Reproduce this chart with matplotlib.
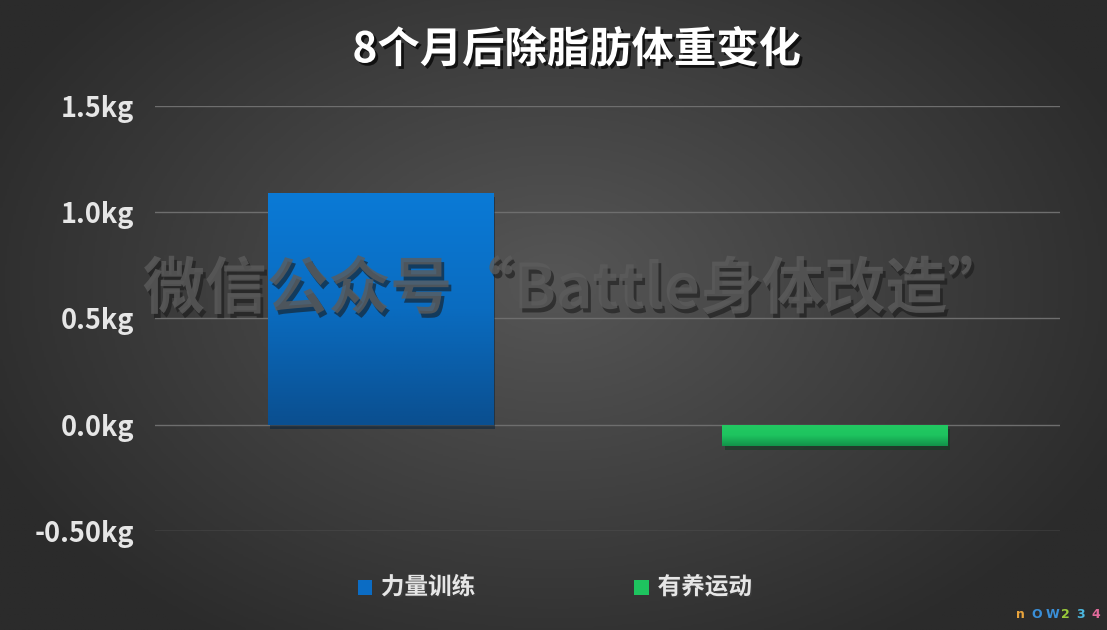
import numpy as np
import matplotlib
matplotlib.use("Agg")
import matplotlib.pyplot as plt
import matplotlib.patheffects as pe
from matplotlib.colors import LinearSegmentedColormap

plt.rcParams['font.family'] = ['Noto Sans CJK SC', 'DejaVu Sans']

# data
categories = ["力量训练", "有养运动"]
values = [1.09, -0.10]
yticks = [-0.5, 0.0, 0.5, 1.0, 1.5]
ytick_labels = ["-0.50kg", "0.0kg", "0.5kg", "1.0kg", "1.5kg"]
title = "8个月后除脂肪体重变化"
watermark = "微信公众号“Battle身体改造”"

fig = plt.figure(figsize=(11.07, 6.3), dpi=100)

# background: dark radial-ish gradient
bg = fig.add_axes([0, 0, 1, 1])
bg.set_axis_off()
yy, xx = np.mgrid[0:1:300j, 0:1:500j]
r = np.sqrt(((xx - 0.5) / 0.75) ** 2 + ((yy - 0.45) / 0.9) ** 2)
bg_cmap = LinearSegmentedColormap.from_list("bg", ["#565656", "#2b2b2b"])
bg.imshow(r, cmap=bg_cmap, aspect="auto", extent=[0, 1, 0, 1], vmin=0, vmax=0.75)
bg.set_xlim(0, 1)
bg.set_ylim(0, 1)

ax = fig.add_axes([0.14, 0.157, 0.8175, 0.675])
ax.patch.set_alpha(0)
for s in ax.spines.values():
    s.set_visible(False)

x = np.arange(len(categories))
width = 0.495
bars = ax.bar(x, values, width=width, color="none", zorder=3)

grads = [["#0a4f90", "#0a6cc0", "#0b7ad6"], ["#12934a", "#1ec45f", "#22c962"]]
for b, g in zip(bars, grads):
    x0, y0 = b.get_x(), b.get_y()
    w, h = b.get_width(), b.get_height()
    cm = LinearSegmentedColormap.from_list("g", g)
    grad = np.linspace(0, 1, 100).reshape(-1, 1)
    ylo, yhi = min(y0, y0 + h), max(y0, y0 + h)
    im = ax.imshow(grad, cmap=cm, aspect="auto", origin="lower",
                   extent=[x0, x0 + w, ylo, yhi], zorder=3)
    im.set_clip_path(b)
    b.set_path_effects([pe.SimplePatchShadow(offset=(2, -3), alpha=0.5), pe.Normal()])
    b.set_facecolor(g[1])
    b.set_zorder(2.9)

ax.set_xlim(-0.495, 1.495)
ax.set_ylim(-0.5, 1.5)
ax.set_yticks(yticks)
ax.set_yticklabels(ytick_labels, color="#e6e6e6", fontsize=19.5, fontweight="bold")
ax.set_xticks([])
ax.tick_params(axis="y", length=0, pad=15)
ax.grid(axis="y", color="#6e6e6e", linewidth=1, zorder=0)
ax.set_axisbelow(True)

shadow = [pe.withSimplePatchShadow(offset=(2, -2), shadow_rgbFace="black", alpha=0.7)]
fig.text(0.521, 0.92, title, ha="center", va="center", fontsize=30.5, fontweight="bold",
         color="white", path_effects=shadow)

fig.text(0.52, 0.54, watermark, ha="center", va="center", fontsize=44.5, fontweight="bold",
         color="#5c5c5c", alpha=0.8, zorder=10,
         path_effects=[pe.withSimplePatchShadow(offset=(2, -3), shadow_rgbFace="#1a1a1a", alpha=0.6)])

# legend
leg_colors = ["#0b6cc4", "#1ec45f"]
leg_x = [0.323, 0.573]
for lx, c, name in zip(leg_x, leg_colors, categories):
    fig.patches.append(plt.Rectangle((lx, 0.055), 0.013, 0.024, transform=fig.transFigure,
                                     facecolor=c, edgecolor="none"))
    fig.text(lx + 0.021, 0.068, name, ha="left", va="center", fontsize=17, fontweight="bold",
             color="#e6e6e6", path_effects=[pe.withSimplePatchShadow(offset=(1, -1), alpha=0.5)])

# small logo bottom right
logo = [("n", "#e8a33c"), ("O", "#3a8fd8"), ("W", "#3a8fd8"), ("2", "#9acb3a"), ("3", "#4cb8e0"), ("4", "#e06a9a")]
for i, (ch, c) in enumerate(logo):
    fig.text(0.918 + i * 0.0135, 0.025, ch, fontsize=9, fontweight="bold", color=c,
             ha="left", va="center", family="DejaVu Sans")

fig.savefig("out.png", dpi=100)
